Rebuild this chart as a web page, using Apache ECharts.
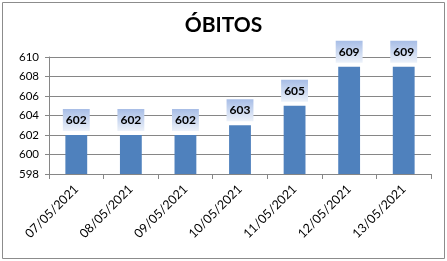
<!DOCTYPE html>
<html><head><meta charset="utf-8">
<script src="https://cdn.jsdelivr.net/npm/echarts@6/dist/echarts.min.js"></script>
<style>html,body{margin:0;padding:0;background:#fff}#c{width:447px;height:261px}</style>
</head><body><div id="c"></div>
<script>
const categories = ['07/05/2021','08/05/2021','09/05/2021','10/05/2021','11/05/2021','12/05/2021','13/05/2021'];
const obitos = [602, 602, 602, 603, 605, 609, 609];
const yTicks = {min: 598, max: 610, interval: 2};
const titleText = 'ÓBITOS';

const chart = echarts.init(document.getElementById('c'), null, {renderer: 'canvas'});
const font = 'Lato, "Liberation Sans", sans-serif';
chart.setOption({
  animation: false,
  backgroundColor: '#fff',
  title: {text: titleText, left: 'center', top: 10,
    textStyle: {fontFamily: font, fontWeight: 'bold', fontSize: 21, color: '#000'}},
  graphic: [{type: 'rect', shape: {x: 2.5, y: 2.5, width: 442, height: 256},
    style: {fill: 'none', stroke: '#8c8c8c', lineWidth: 1}, silent: true}],
  grid: {left: 49, right: 16, top: 57, bottom: 87, containLabel: false},
  xAxis: {type: 'category', data: categories, boundaryGap: true,
    axisLine: {show: true, lineStyle: {color: '#868686', width: 1}},
    axisTick: {show: true, length: 5, lineStyle: {color: '#868686'}},
    axisLabel: {rotate: 45, margin: 13, fontFamily: font, fontSize: 12.5, color: '#000', interval: 0}},
  yAxis: {type: 'value', min: yTicks.min, max: yTicks.max, interval: yTicks.interval,
    axisLine: {show: true, lineStyle: {color: '#868686', width: 1}},
    axisTick: {show: true, length: 4, lineStyle: {color: '#868686'}},
    splitLine: {show: true, lineStyle: {color: '#868686', width: 1}},
    axisLabel: {margin: 10, fontFamily: font, fontSize: 11.5, color: '#000'}},
  series: [{type: 'bar', data: obitos, barWidth: '40%',
    itemStyle: {color: '#4f81bd'},
    label: {show: true, position: 'top', distance: 4,
      fontFamily: font, fontWeight: 'bold', fontSize: 12, color: '#000',
      lineHeight: 14, padding: [4, 3, 4, 3],
      backgroundColor: new echarts.graphic.LinearGradient(0, 0, 0, 1, [
        {offset: 0, color: '#a7bde6'}, {offset: 1, color: '#edf2fa'}])}}]
});
</script></body></html>
